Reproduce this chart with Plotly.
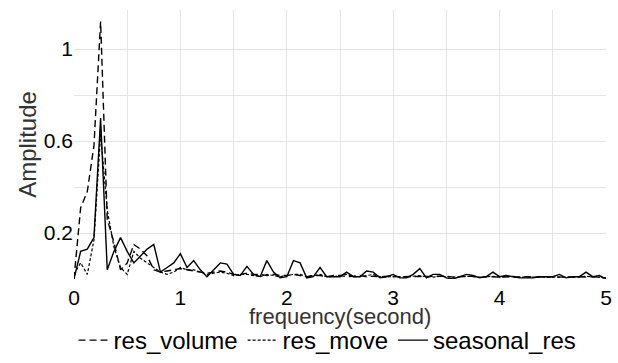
import plotly.graph_objects as go

freq = [0.0, 0.0625, 0.125, 0.1875, 0.25, 0.3125, 0.375, 0.4375, 0.5, 0.5625,
        0.625, 0.6875, 0.75, 0.8125, 0.875, 0.9375, 1.0, 1.0625, 1.125, 1.1875,
        1.25, 1.3125, 1.375, 1.4375, 1.5, 1.5625, 1.625, 1.6875, 1.75, 1.8125,
        1.875, 1.9375, 2.0, 2.0625, 2.125, 2.1875, 2.25, 2.3125, 2.375, 2.4375,
        2.5, 2.5625, 2.625, 2.6875, 2.75, 2.8125, 2.875, 2.9375, 3.0, 3.0625,
        3.125, 3.1875, 3.25, 3.3125, 3.375, 3.4375, 3.5, 3.5625, 3.625, 3.6875,
        3.75, 3.8125, 3.875, 3.9375, 4.0, 4.0625, 4.125, 4.1875, 4.25, 4.3125,
        4.375, 4.4375, 4.5, 4.5625, 4.625, 4.6875, 4.75, 4.8125, 4.875, 4.9375, 5.0]

res_volume = [0.0, 0.31, 0.38, 0.58, 1.12, 0.26, 0.16, 0.04, 0.07, 0.15,
              0.13, 0.10, 0.04, 0.03, 0.035, 0.04, 0.045, 0.04, 0.035, 0.03,
              0.025, 0.03, 0.035, 0.03, 0.02, 0.02, 0.025, 0.02, 0.02, 0.015,
              0.02, 0.015, 0.015, 0.02, 0.015, 0.01, 0.015, 0.015, 0.01, 0.015,
              0.015, 0.01, 0.012, 0.015, 0.01, 0.012, 0.01, 0.012, 0.01, 0.01,
              0.012, 0.01, 0.01, 0.012, 0.01, 0.01, 0.012, 0.008, 0.01, 0.01,
              0.012, 0.008, 0.01, 0.01, 0.008, 0.01, 0.01, 0.008, 0.01, 0.008,
              0.01, 0.008, 0.01, 0.008, 0.01, 0.008, 0.01, 0.008, 0.01, 0.008, 0.005]

res_move = [0.02, 0.07, 0.02, 0.17, 0.63, 0.30, 0.14, 0.05, 0.02, 0.12,
            0.09, 0.07, 0.05, 0.03, 0.02, 0.03, 0.05, 0.04, 0.04, 0.03,
            0.02, 0.025, 0.03, 0.025, 0.015, 0.02, 0.02, 0.015, 0.01, 0.02,
            0.015, 0.01, 0.015, 0.02, 0.02, 0.01, 0.015, 0.02, 0.01, 0.01,
            0.015, 0.02, 0.01, 0.01, 0.015, 0.02, 0.01, 0.008, 0.012, 0.01,
            0.008, 0.012, 0.015, 0.01, 0.008, 0.012, 0.01, 0.008, 0.01, 0.012,
            0.01, 0.008, 0.01, 0.012, 0.008, 0.01, 0.012, 0.008, 0.008, 0.01,
            0.008, 0.01, 0.008, 0.01, 0.008, 0.01, 0.008, 0.012, 0.01, 0.008, 0.005]

seasonal_res = [0.0, 0.12, 0.13, 0.18, 0.70, 0.04, 0.12, 0.18, 0.12, 0.07,
                0.10, 0.13, 0.15, 0.03, 0.05, 0.07, 0.11, 0.05, 0.08, 0.04,
                0.01, 0.04, 0.07, 0.065, 0.02, 0.015, 0.055, 0.02, 0.01, 0.08,
                0.03, 0.005, 0.01, 0.08, 0.07, 0.005, 0.01, 0.05, 0.01, 0.01,
                0.01, 0.03, 0.01, 0.01, 0.035, 0.03, 0.005, 0.01, 0.02, 0.005,
                0.005, 0.02, 0.045, 0.005, 0.02, 0.02, 0.005, 0.0, 0.01, 0.02,
                0.015, 0.005, 0.01, 0.03, 0.01, 0.015, 0.01, 0.005, 0.005, 0.005,
                0.01, 0.01, 0.01, 0.02, 0.005, 0.01, 0.01, 0.03, 0.01, 0.015, 0.0]

series_names = ["res_volume", "res_move", "seasonal_res"]
x_ticks = [0, 0.5, 1, 1.5, 2, 2.5, 3, 3.5, 4, 4.5, 5]
x_labels = ["0", "", "1", "", "2", "", "3", "", "4", "", "5"]
y_ticks = [0, 0.2, 0.4, 0.6, 0.8, 1.0]
y_labels = ["", "0.2", "", "0.6", "", "1"]
x_title = "frequency(second)"
y_title = "Amplitude"

FONT = "Arial"
fig = go.Figure()
fig.add_trace(go.Scatter(x=freq, y=res_volume, mode="lines", name=series_names[0],
                         line=dict(color="black", width=1.4, dash="7px,4px")))
fig.add_trace(go.Scatter(x=freq, y=res_move, mode="lines", name=series_names[1],
                         line=dict(color="black", width=1.2, dash="3px,2px")))
fig.add_trace(go.Scatter(x=freq, y=seasonal_res, mode="lines", name=series_names[2],
                         line=dict(color="black", width=1.4)))

fig.update_layout(
    width=618, height=363,
    margin=dict(l=74, r=12, t=10, b=84),
    plot_bgcolor="white", paper_bgcolor="white",
    font=dict(family=FONT, color="#1a1a1a"),
    showlegend=True,
    legend=dict(orientation="h", xref="container", yref="container",
                x=0.53, xanchor="center", y=-0.02, yanchor="bottom",
                font=dict(size=24, color="black", family=FONT),
                itemwidth=30, tracegroupgap=0, bgcolor="rgba(0,0,0,0)",
                borderwidth=0),
    xaxis=dict(range=[0, 5], tickmode="array", tickvals=x_ticks, ticktext=x_labels,
               showgrid=True, gridcolor="#e5e5e5", gridwidth=1, zeroline=False,
               showline=False, ticks="", tickfont=dict(size=21, color="black"),
               automargin=False, ticklabelstandoff=4),
    yaxis=dict(range=[0, 1.17], tickmode="array", tickvals=y_ticks, ticktext=y_labels,
               showgrid=True, gridcolor="#e5e5e5", gridwidth=1, zeroline=False,
               showline=False, ticks="", tickfont=dict(size=21, color="black"),
               automargin=False,
               title=dict(text=y_title, font=dict(size=24, color="#333333"),
                          standoff=0)),
    annotations=[dict(text=x_title, xref="paper", yref="paper", x=0.5, y=-0.138,
                      xanchor="center", yanchor="middle", showarrow=False,
                      font=dict(size=22, color="#333333", family=FONT))],
)

fig.write_html("out.html")
